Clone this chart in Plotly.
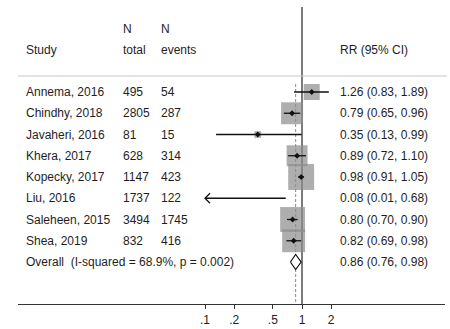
import math
import plotly.graph_objects as go

# ---- data -------------------------------------------------------------
studies = ["Annema, 2016", "Chindhy, 2018", "Javaheri, 2016", "Khera, 2017",
           "Kopecky, 2017", "Liu, 2016", "Saleheen, 2015", "Shea, 2019"]
n_total = [495, 2805, 81, 628, 1147, 1737, 3494, 832]
n_events = [54, 287, 15, 314, 423, 122, 1745, 416]
rr = [1.26, 0.79, 0.35, 0.89, 0.98, 0.08, 0.80, 0.82]
ci_low = [0.83, 0.65, 0.13, 0.72, 0.91, 0.01, 0.70, 0.69]
ci_high = [1.89, 0.96, 0.99, 1.10, 1.05, 0.68, 0.90, 0.98]
weights = [8.4, 15.9, 1.5, 14.5, 22.2, 0.2, 20.5, 17.4]  # percent

overall_label = "Overall  (I-squared = 68.9%, p = 0.002)"
overall_rr, overall_low, overall_high = 0.86, 0.76, 0.98

tick_vals = [0.1, 0.2, 0.5, 1, 2]
tick_text = [".1", ".2", ".5", "1", "2"]

# ---- layout constants -------------------------------------------------
W, H = 450, 329
ML, MR, MT, MB = 18, 5, 0, 25
PLOT_W = W - ML - MR
ROW0_PX, ROW_PX = 92, 21.25          # first row centre and row pitch
X_MIN = 0.1                          # lower limit of the estimate scale
FONT = "Liberation Sans, Arial, sans-serif"
FS = 12
TXT = "#1e1e1e"


def px_to_paper(px):
    return (px - ML) / PLOT_W


def px_to_row(py):
    return (py - ROW0_PX) / ROW_PX


y_top = px_to_row(MT)
y_bot = px_to_row(H - MB)
row_overall = len(studies)
rows = list(range(len(studies)))

fig = go.Figure()

# reference line at RR = 1 and dashed line at the pooled estimate
fig.add_trace(go.Scatter(x=[1, 1], y=[px_to_row(7), y_bot], mode="lines",
                         line=dict(color="#505050", width=1.5),
                         hoverinfo="skip", showlegend=False))
fig.add_trace(go.Scatter(x=[overall_rr, overall_rr], y=[px_to_row(84), y_bot],
                         mode="lines",
                         line=dict(color="#8a8a8a", width=1, dash="3px,2px"),
                         hoverinfo="skip", showlegend=False))

# weight boxes (only for estimates inside the displayed scale)
bx, by, bs = [], [], []
for i, (r, w) in enumerate(zip(rr, weights)):
    if r >= X_MIN:
        bx.append(r)
        by.append(i)
        bs.append(5.5 * math.sqrt(w))
fig.add_trace(go.Scatter(x=bx, y=by, mode="markers",
                         marker=dict(symbol="square", size=bs, color="#8c8c8c",
                                     line=dict(width=0)),
                         hoverinfo="skip", showlegend=False))

# confidence intervals, clipped with an arrow at the scale limit
lx, ly = [], []
ax_, ay_ = [], []
arm_dx = 10 ** (5 / 97)   # arrow arm length in decades
arm_dy = 5 / ROW_PX
for i, (lo, hi) in enumerate(zip(ci_low, ci_high)):
    start = max(lo, X_MIN)
    lx += [start, hi, None]
    ly += [i, i, None]
    if lo < X_MIN:
        ax_ += [X_MIN * arm_dx, X_MIN, X_MIN * arm_dx, None]
        ay_ += [i - arm_dy, i, i + arm_dy, None]
fig.add_trace(go.Scatter(x=lx, y=ly, mode="lines",
                         line=dict(color="#111111", width=1.3),
                         hoverinfo="skip", showlegend=False))
fig.add_trace(go.Scatter(x=ax_, y=ay_, mode="lines",
                         line=dict(color="#111111", width=1.3),
                         hoverinfo="skip", showlegend=False))

# point estimates
px_, py_ = [], []
for i, r in enumerate(rr):
    if r >= X_MIN:
        px_.append(r)
        py_.append(i)
fig.add_trace(go.Scatter(x=px_, y=py_, mode="markers",
                         marker=dict(symbol="diamond", size=4.5, color="#111111"),
                         hoverinfo="skip", showlegend=False))

# pooled diamond
dh = 7.5 / ROW_PX
fig.add_trace(go.Scatter(
    x=[overall_low, overall_rr, overall_high, overall_rr, overall_low],
    y=[row_overall, row_overall - dh, row_overall, row_overall + dh, row_overall],
    mode="lines", fill="toself", fillcolor="white",
    line=dict(color="#111111", width=1.2),
    hoverinfo="skip", showlegend=False))

# ---- text columns -----------------------------------------------------
annotations = []


def text(px, row, s):
    annotations.append(dict(x=px_to_paper(px), y=row, xref="paper", yref="y",
                            text=s, showarrow=False, xanchor="left",
                            yanchor="middle",
                            font=dict(family=FONT, size=FS, color=TXT)))


row_n = px_to_row(29)
row_hdr = px_to_row(50)
text(121, row_n, "N")
text(159, row_n, "N")
text(24, row_hdr, "Study")
text(121, row_hdr, "total")
text(159, row_hdr, "events")
text(338, row_hdr, "RR (95% CI)")

for i in rows:
    text(24, i, studies[i])
    text(121, i, str(n_total[i]))
    text(159, i, str(n_events[i]))
    text(338, i, f"{rr[i]:.2f} ({ci_low[i]:.2f}, {ci_high[i]:.2f})")

text(24, row_overall, overall_label)
text(338, row_overall,
     f"{overall_rr:.2f} ({overall_low:.2f}, {overall_high:.2f})")

shapes = [dict(type="line", xref="paper", yref="y", x0=0, x1=1.005,
               y0=px_to_row(76), y1=px_to_row(76),
               line=dict(color="#c8c8c8", width=1))]

fig.update_layout(
    width=W, height=H,
    margin=dict(l=ML, r=MR, t=MT, b=MB),
    paper_bgcolor="white", plot_bgcolor="white",
    annotations=annotations, shapes=shapes,
    xaxis=dict(type="log",
               range=[math.log10(X_MIN) - (205 - ML) / 97, (W - MR - 302) / 97],
               tickvals=tick_vals, ticktext=tick_text,
               ticks="outside", ticklen=4, tickwidth=1, tickcolor="#333333",
               showline=True, linecolor="#333333", linewidth=1.3,
               showgrid=False, zeroline=False,
               tickfont=dict(family=FONT, size=FS, color=TXT)),
    yaxis=dict(range=[y_bot, y_top], visible=False, showgrid=False,
               zeroline=False),
)

fig.write_html("out.html")
